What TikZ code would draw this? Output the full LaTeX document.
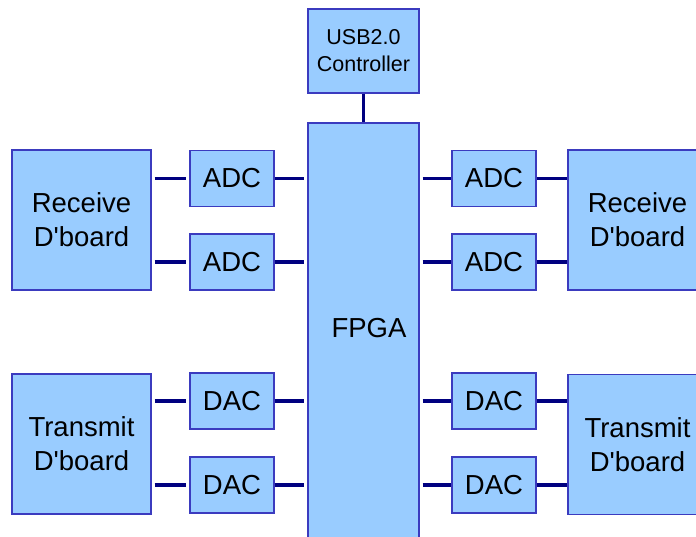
\documentclass[tikz,border=0pt]{standalone}
\usepackage{fontspec}
\setmainfont{Liberation Sans}
\usetikzlibrary{calc}
\definecolor{boxfill}{HTML}{99CCFF}
\definecolor{boxline}{HTML}{3B3BBF}
\definecolor{linkcol}{HTML}{000080}
\newcommand{\dbrd}{D\textquotesingle board}

\begin{document}
\begin{tikzpicture}[x=1pt, y=-1pt,
    blk/.style={draw=boxline, fill=boxfill, line width=1.2pt, inner sep=0pt, align=center},
    conv/.style={blk, minimum width=84pt, minimum height=56pt, text depth=1pt, font=\fontsize{27.5}{30}\selectfont},
    board/.style={blk, minimum width=139pt, minimum height=140pt, font=\fontsize{27.5}{34}\selectfont},
    link/.style={draw=linkcol, line width=3.8pt}]
    \useasboundingbox (0,0) rectangle (696,537);

    % Centre column: USB controller on top of the FPGA
    \node[blk, minimum width=111pt, minimum height=84pt, font=\fontsize{21.5}{27}\selectfont] (usb) at (363.5,51) {USB2.0\\Controller};
    \node[blk, minimum width=111pt, minimum height=450pt] (fpga) at (363.5,348) {};
    \node[font=\fontsize{27.5}{30}\selectfont] (fpgalbl) at (369,328) {FPGA};
    \draw[link] (usb) -- (fpga);

    % Left side: daughterboards and converters
    \node[board] (rxL) at (81.5,220) {Receive\\\dbrd};
    \node[board] (txL) at (81.5,444) {Transmit\\\dbrd};
    \node[conv] (adcL1) at (232,178.5) {ADC};
    \node[conv] (adcL2) at (232,262) {ADC};
    \node[conv] (dacL1) at (232,401) {DAC};
    \node[conv] (dacL2) at (232,485) {DAC};

    \draw[link, shorten <=3pt, shorten >=3pt] (rxL.east |- adcL1) -- (adcL1);
    \draw[link, shorten <=3pt, shorten >=3pt] (rxL.east |- adcL2) -- (adcL2);
    \draw[link, shorten <=3pt, shorten >=3pt] (txL.east |- dacL1) -- (dacL1);
    \draw[link, shorten <=3pt, shorten >=3pt] (txL.east |- dacL2) -- (dacL2);
    \draw[link, shorten >=3pt] (adcL1) -- (adcL1 -| fpga.west);
    \draw[link, shorten >=3pt] (adcL2) -- (adcL2 -| fpga.west);
    \draw[link, shorten >=3pt] (dacL1) -- (dacL1 -| fpga.west);
    \draw[link, shorten >=3pt] (dacL2) -- (dacL2 -| fpga.west);

    % Right side: converters and daughterboards (cut off by the frame)
    \node[conv] (adcR1) at (494,178.5) {ADC};
    \node[conv] (adcR2) at (494,262) {ADC};
    \node[conv] (dacR1) at (494,401) {DAC};
    \node[conv] (dacR2) at (494,485) {DAC};
    \node[board] (rxR) at (637.5,220) {Receive\\\dbrd};
    \node[board] (txR) at (637.5,444.5) {Transmit\\\dbrd};

    \draw[link, shorten <=3pt] (adcR1 -| fpga.east) -- (adcR1);
    \draw[link, shorten <=3pt] (adcR2 -| fpga.east) -- (adcR2);
    \draw[link, shorten <=3pt] (dacR1 -| fpga.east) -- (dacR1);
    \draw[link, shorten <=3pt] (dacR2 -| fpga.east) -- (dacR2);
    \draw[link] (adcR1) -- (adcR1 -| rxR.west);
    \draw[link] (adcR2) -- (adcR2 -| rxR.west);
    \draw[link] (dacR1) -- (dacR1 -| txR.west);
    \draw[link] (dacR2) -- (dacR2 -| txR.west);
\end{tikzpicture}
\end{document}
